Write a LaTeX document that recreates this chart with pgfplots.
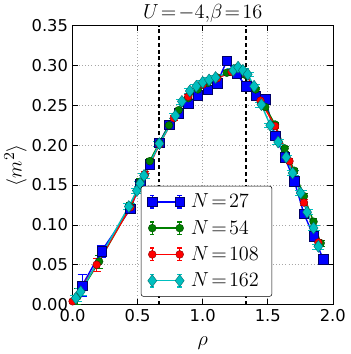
\documentclass[border=0pt]{standalone}
\usepackage{pgfplots}
\pgfplotsset{compat=1.18}
\usepackage{fontspec}
\setmainfont{DejaVu Sans}
\definecolor{mblue}{rgb}{0,0,1}
\definecolor{mgreen}{rgb}{0,0.5,0}
\definecolor{mred}{rgb}{1,0,0}
\definecolor{mcyan}{rgb}{0,0.75,0.75}
\newcommand\mt[1]{\scalebox{1.3}{$#1$}}
\begin{document}
\begin{tikzpicture}[font=\fontsize{12.5}{14}\selectfont]
\begin{axis}[
  scale only axis, width=199.5pt, height=213.75pt,
  xmin=0, xmax=2, ymin=0, ymax=0.35,
  xtick={0,0.5,...,2.0}, ytick={0,0.05,...,0.351},
  tick align=inside, tick style={black, thin},
  xticklabel style={/pgf/number format/.cd, fixed, fixed zerofill, precision=1},
  yticklabel style={/pgf/number format/.cd, fixed, fixed zerofill, precision=2},
  /pgf/number format/assume math mode=true,
  grid=major, major grid style={gray!70, dotted},
  xlabel={\mt{\rho}}, ylabel={\mt{\langle m^2\rangle}},
  xlabel style={yshift=-5pt},
  ylabel style={yshift=-3pt},
  title={\mt{U\!=\!-4,\!\beta\!=\!16}},
  title style={yshift=-7pt},
  axis line style={black},
  clip=false,
  legend style={at={(rel axis cs:0.262,0.028)}, anchor=south west,
    draw=black, rounded corners=2pt, fill=white, row sep=4pt,
    inner xsep=5pt, inner ysep=4pt,
    nodes={inner xsep=5pt}},
  legend cell align=left,
  legend image code/.code={
    \draw[#1,mark=none] (0cm,0cm) -- (0.74cm,0cm);
    \draw[#1,mark=none] (0cm,-0.17cm)--(0cm,0.17cm) (0.74cm,-0.17cm)--(0.74cm,0.17cm);
    \draw[#1,mark=none] (-0.06cm,0.17cm)--(0.06cm,0.17cm) (-0.06cm,-0.17cm)--(0.06cm,-0.17cm);
    \draw[#1,mark=none] (0.68cm,0.17cm)--(0.8cm,0.17cm) (0.68cm,-0.17cm)--(0.8cm,-0.17cm);
    \draw[#1,only marks] plot coordinates {(0cm,0cm) (0.74cm,0cm)};
  },
  error bars/y dir=both, error bars/y explicit,
]
\addplot[mblue, line width=1.1pt, mark=square*, mark size=3.6pt,
  mark options={fill=mblue, draw=black!60!blue, line width=0.3pt},
  error bars/error bar style={mblue, line width=0.8pt}] coordinates {
 (0.074,0.024) +- (0,0.014)
 (0.222,0.067) +- (0,0.008)
 (0.444,0.120) +- (0,0.006)
 (0.519,0.152) +- (0,0.005)
 (0.593,0.176) +- (0,0.005)
 (0.667,0.203) +- (0,0.004)
 (0.741,0.226) +- (0,0.004)
 (0.815,0.240) +- (0,0.004)
 (0.889,0.252) +- (0,0.004)
 (0.963,0.263) +- (0,0.004)
 (1.037,0.270) +- (0,0.004)
 (1.111,0.278) +- (0,0.004)
 (1.185,0.306) +- (0,0.004)
 (1.259,0.290) +- (0,0.004)
 (1.333,0.274) +- (0,0.004)
 (1.407,0.262) +- (0,0.004)
 (1.481,0.258) +- (0,0.004)
 (1.556,0.212) +- (0,0.004)
 (1.630,0.185) +- (0,0.004)
 (1.704,0.155) +- (0,0.004)
 (1.778,0.114) +- (0,0.004)
 (1.852,0.086) +- (0,0.004)
 (1.926,0.057) +- (0,0.004)
};
\addlegendentry{\mt{N\!=\!27}}
\addplot[mgreen, line width=1.1pt, mark=*, mark size=3pt,
  mark options={fill=mgreen, draw=black!50!mgreen, line width=0.3pt},
  error bars/error bar style={mgreen, line width=0.8pt}] coordinates {
 (0.037,0.010) +- (0,0.010)
 (0.204,0.054) +- (0,0.008)
 (0.444,0.123) +- (0,0.005)
 (0.519,0.154) +- (0,0.004)
 (0.593,0.180) +- (0,0.004)
 (0.667,0.203) +- (0,0.004)
 (0.741,0.225) +- (0,0.004)
 (0.815,0.244) +- (0,0.003)
 (0.889,0.259) +- (0,0.003)
 (0.963,0.270) +- (0,0.003)
 (1.037,0.278) +- (0,0.003)
 (1.111,0.285) +- (0,0.003)
 (1.185,0.291) +- (0,0.003)
 (1.259,0.297) +- (0,0.003)
 (1.333,0.288) +- (0,0.003)
 (1.407,0.270) +- (0,0.003)
 (1.481,0.248) +- (0,0.003)
 (1.556,0.226) +- (0,0.003)
 (1.630,0.196) +- (0,0.003)
 (1.704,0.168) +- (0,0.003)
 (1.778,0.136) +- (0,0.004)
 (1.852,0.104) +- (0,0.004)
 (1.907,0.077) +- (0,0.004)
};
\addlegendentry{\mt{N\!=\!54}}
\addplot[mred, line width=1.1pt, mark=*, mark size=3pt,
  mark options={fill=mred, draw=black!50!mred, line width=0.3pt},
  error bars/error bar style={mred, line width=0.8pt}] coordinates {
 (0.000,0.004) +- (0,0.003)
 (0.185,0.050) +- (0,0.008)
 (0.444,0.122) +- (0,0.005)
 (0.556,0.163) +- (0,0.004)
 (0.667,0.201) +- (0,0.004)
 (0.778,0.234) +- (0,0.003)
 (0.889,0.261) +- (0,0.003)
 (1.000,0.276) +- (0,0.003)
 (1.111,0.284) +- (0,0.003)
 (1.222,0.292) +- (0,0.003)
 (1.333,0.290) +- (0,0.003)
 (1.444,0.256) +- (0,0.003)
 (1.556,0.224) +- (0,0.003)
 (1.667,0.180) +- (0,0.003)
 (1.778,0.128) +- (0,0.004)
 (1.889,0.078) +- (0,0.004)
};
\addlegendentry{\mt{N\!=\!108}}
\addplot[mcyan, line width=1.1pt, mark=diamond*, mark size=4.6pt,
  mark options={fill=mcyan, draw=black!45!mcyan, line width=0.3pt},
  error bars/error bar style={mcyan, line width=0.8pt}] coordinates {
 (0.025,0.008) +- (0,0.004)
 (0.062,0.016) +- (0,0.004)
 (0.432,0.123) +- (0,0.004)
 (0.494,0.143) +- (0,0.003)
 (0.519,0.152) +- (0,0.003)
 (0.549,0.162) +- (0,0.003)
 (0.667,0.202) +- (0,0.003)
 (0.790,0.237) +- (0,0.003)
 (0.840,0.255) +- (0,0.003)
 (0.901,0.268) +- (0,0.003)
 (0.951,0.274) +- (0,0.003)
 (1.000,0.279) +- (0,0.003)
 (1.049,0.282) +- (0,0.003)
 (1.099,0.285) +- (0,0.003)
 (1.235,0.294) +- (0,0.003)
 (1.272,0.298) +- (0,0.003)
 (1.309,0.294) +- (0,0.003)
 (1.346,0.289) +- (0,0.003)
 (1.395,0.274) +- (0,0.003)
 (1.451,0.251) +- (0,0.003)
 (1.519,0.225) +- (0,0.003)
 (1.580,0.204) +- (0,0.003)
 (1.642,0.185) +- (0,0.003)
 (1.691,0.165) +- (0,0.003)
 (1.753,0.140) +- (0,0.003)
 (1.802,0.116) +- (0,0.003)
 (1.852,0.096) +- (0,0.003)
 (1.889,0.073) +- (0,0.003)
};
\addlegendentry{\mt{N\!=\!162}}
\draw[black, line width=1.5pt, dash pattern=on 3pt off 2.2pt] (axis cs:0.6667,0) -- (axis cs:0.6667,0.35);
\draw[black, line width=1.5pt, dash pattern=on 3pt off 2.2pt] (axis cs:1.3333,0) -- (axis cs:1.3333,0.35);
\path (rel axis cs:-0.263,-0.168) rectangle (rel axis cs:1.068,1.074);
\end{axis}
\end{tikzpicture}
\end{document}
